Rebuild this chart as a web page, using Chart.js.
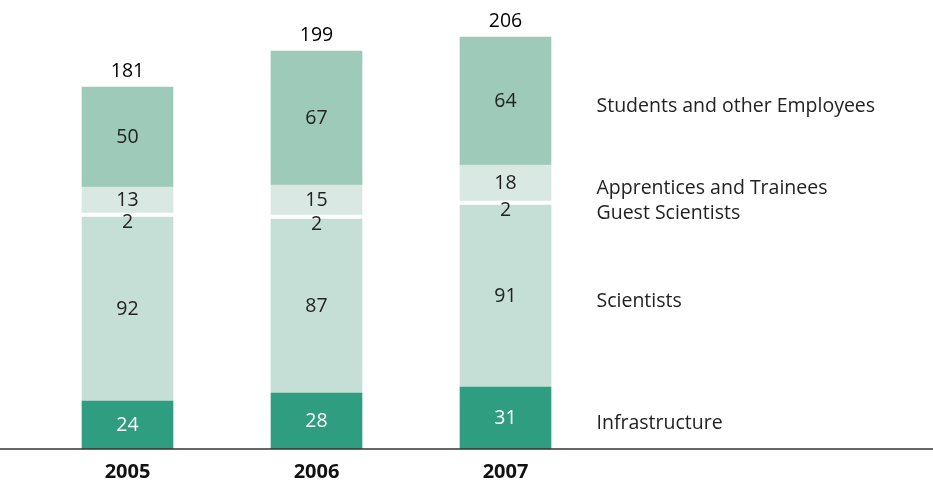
<!DOCTYPE html>
<html>
<head>
<meta charset="utf-8">
<script src="https://cdn.jsdelivr.net/npm/chart.js@4/dist/chart.umd.min.js"></script>
<style>
  html, body { margin: 0; padding: 0; background: #fff; }
  #wrap { width: 933px; height: 483px; }
</style>
</head>
<body>
<div id="wrap"><canvas id="staffChart" width="933" height="483"></canvas></div>
<script>
const years = ['2005', '2006', '2007'];
const infrastructure = [24, 28, 31];
const scientists = [92, 87, 91];
const guestScientists = [2, 2, 2];
const apprentices = [13, 15, 18];
const students = [50, 67, 64];
const totals = [181, 199, 206];
const seriesNames = ['Infrastructure', 'Scientists', 'Guest Scientists', 'Apprentices and Trainees', 'Students and other Employees'];

const FONT = '"Open Sans", "Noto Sans", sans-serif';

// in-bar values, totals on top and series names to the right of the last bar
const labelPlugin = {
    id: 'labels',
    afterDatasetsDraw(chart) {
        const ctx = chart.ctx;
        ctx.save();
        ctx.font = '19.5px ' + FONT;
        ctx.textBaseline = 'middle';
        chart.data.datasets.forEach((ds, di) => {
            const meta = chart.getDatasetMeta(di);
            meta.data.forEach((bar, i) => {
                const mid = (bar.y + bar.base) / 2;
                ctx.textAlign = 'center';
                ctx.fillStyle = di === 0 ? '#ffffff' : '#222222';
                ctx.fillText(String(ds.data[i]), bar.x, di === 2 ? mid + 7 : mid);
            });
            const last = meta.data[meta.data.length - 1];
            const mid = (last.y + last.base) / 2;
            ctx.textAlign = 'left';
            ctx.fillStyle = '#222222';
            ctx.fillText(ds.label, last.x + 91, di === 2 ? mid + 10 : mid + 5);
        });
        const top = chart.getDatasetMeta(chart.data.datasets.length - 1);
        ctx.textAlign = 'center';
        ctx.fillStyle = '#000000';
        top.data.forEach((bar, i) => {
            ctx.fillText(String(totals[i]), bar.x, bar.y - 16);
        });
        // baseline across the full width
        const y0 = chart.scales.y.getPixelForValue(0);
        ctx.strokeStyle = '#333333';
        ctx.lineWidth = 1.5;
        ctx.beginPath();
        ctx.moveTo(0, y0);
        ctx.lineTo(chart.width, y0);
        ctx.stroke();
        ctx.restore();
    }
};

const staffChart = new Chart(document.getElementById('staffChart'), {
    type: 'bar',
    data: {
        labels: years,
        datasets: [
            { label: seriesNames[0], data: infrastructure,  backgroundColor: '#2f9e80' },
            { label: seriesNames[1], data: scientists,      backgroundColor: '#c6dfd6' },
            { label: seriesNames[2], data: guestScientists, backgroundColor: '#ffffff' },
            { label: seriesNames[3], data: apprentices,     backgroundColor: '#d9e8e2' },
            { label: seriesNames[4], data: students,        backgroundColor: '#9ecab9' }
        ]
    },
    options: {
        responsive: false,
        animation: false,
        layout: { padding: { left: 33, right: 333, top: 9, bottom: 2 } },
        datasets: { bar: { barThickness: 91 } },
        plugins: { legend: { display: false }, tooltip: { enabled: false } },
        scales: {
            x: {
                stacked: true,
                grid: { display: false },
                border: { display: false },
                afterFit(scale) { scale.height = 32; },
                ticks: { color: '#111111', padding: 3, font: { family: FONT, size: 20, weight: 'bold' } }
            },
            y: { stacked: true, display: false, min: 0, max: 220 }
        }
    },
    plugins: [labelPlugin]
});
</script>
</body>
</html>
